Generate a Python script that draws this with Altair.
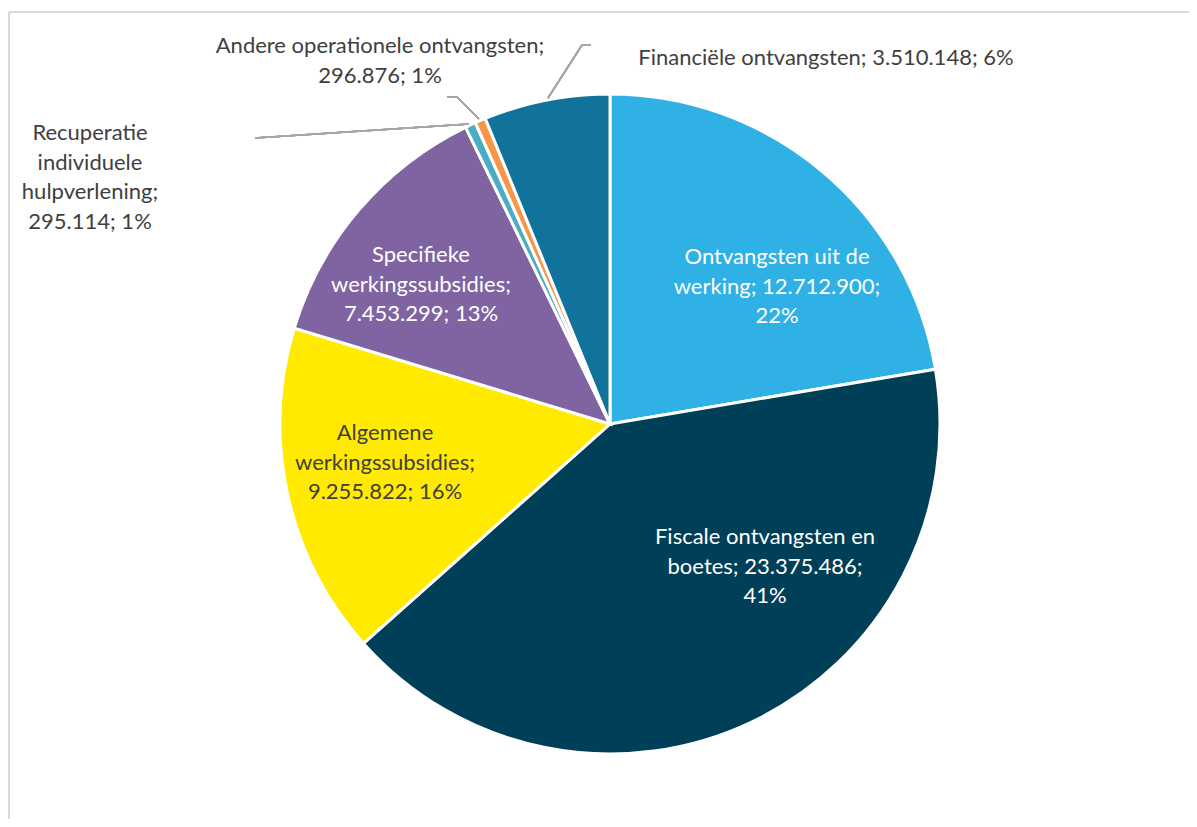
import altair as alt
import pandas as pd

categories = [
    "Ontvangsten uit de werking",
    "Fiscale ontvangsten en boetes",
    "Algemene werkingssubsidies",
    "Specifieke werkingssubsidies",
    "Recuperatie individuele hulpverlening",
    "Andere operationele ontvangsten",
    "Financiële ontvangsten",
]
values = [12712900, 23375486, 9255822, 7453299, 295114, 296876, 3510148]
colors = ["#2FB1E6", "#003F58", "#FFEA00", "#8064A2", "#4BACC6", "#F79646", "#11729B"]

# label line wrapping as shown in the reference
label_lines = [
    ["Ontvangsten uit de", "werking; {v};", "{p}"],
    ["Fiscale ontvangsten en", "boetes; {v};", "{p}"],
    ["Algemene", "werkingssubsidies;", "{v}; {p}"],
    ["Specifieke", "werkingssubsidies;", "{v}; {p}"],
    ["Recuperatie", "individuele", "hulpverlening;", "{v}; {p}"],
    ["Andere operationele ontvangsten;", "{v}; {p}"],
    ["Financiële ontvangsten; {v}; {p}"],
]

total = sum(values)


def fmt(v):
    return f"{v:,}".replace(",", ".")


labels = []
for lines, v in zip(label_lines, values):
    p = f"{round(v / total * 100)}%"
    labels.append("\n".join(l.format(v=fmt(v), p=p) for l in lines))

df = pd.DataFrame({
    "category": categories,
    "value": values,
    "idx": list(range(len(categories))),
    "label": labels,
})

W, H = 1181, 811
CX, CY, R = 602, 416, 330
FONT = "Lato"
FS = 22
LH = 29.5

base = alt.Chart(df)

pie = base.mark_arc(radius=R, stroke="white", strokeWidth=3).encode(
    theta=alt.Theta("value:Q", stack=True),
    color=alt.Color("category:N", scale=alt.Scale(domain=categories, range=colors), legend=None),
    order=alt.Order("idx:Q"),
    x=alt.value(CX),
    y=alt.value(CY),
)

# label placements (chart coordinates of the first line) and text colours
placements = [
    (categories[0], 769, 249, "white"),
    (categories[1], 757, 529, "white"),
    (categories[2], 377, 425, "#404040"),
    (categories[3], 413, 247, "white"),
    (categories[4], 82, 125, "#404040"),
    (categories[5], 372, 38, "#404040"),
    (categories[6], 818, 50, "#404040"),
]

label_layers = []
for cat, lx, ly, col in placements:
    label_layers.append(
        base.transform_filter(alt.datum.category == cat)
        .mark_text(font=FONT, fontSize=FS, lineHeight=LH, lineBreak="\n",
                   align="center", baseline="middle", color=col)
        .encode(text="label:N", x=alt.value(lx), y=alt.value(ly))
    )

LEADER = "#A6A6A6"


def seg(x1, y1, x2, y2, color=LEADER, w=1.5):
    return base.mark_rule(color=color, strokeWidth=w).encode(
        x=alt.value(x1), y=alt.value(y1), x2=alt.value(x2), y2=alt.value(y2)
    )


leaders = [
    # Financiële
    seg(540, 90, 574, 37), seg(574, 37, 583, 37),
    # Andere operationele
    seg(439, 89, 449, 89), seg(449, 89, 471, 111),
    # Recuperatie
    seg(247, 130, 461, 116),
]

border = [
    seg(1, 4, 1, H, color="#D9D9D9", w=2),
    seg(1, 4, W, 4, color="#D9D9D9", w=2),
]

chart = alt.layer(pie, *label_layers, *leaders, *border).properties(
    width=W, height=H, padding=0, autosize=alt.AutoSizeParams(type="none")
).configure_view(stroke=None)

chart.save("out.html", embed_options={"renderer": "svg", "actions": False})
